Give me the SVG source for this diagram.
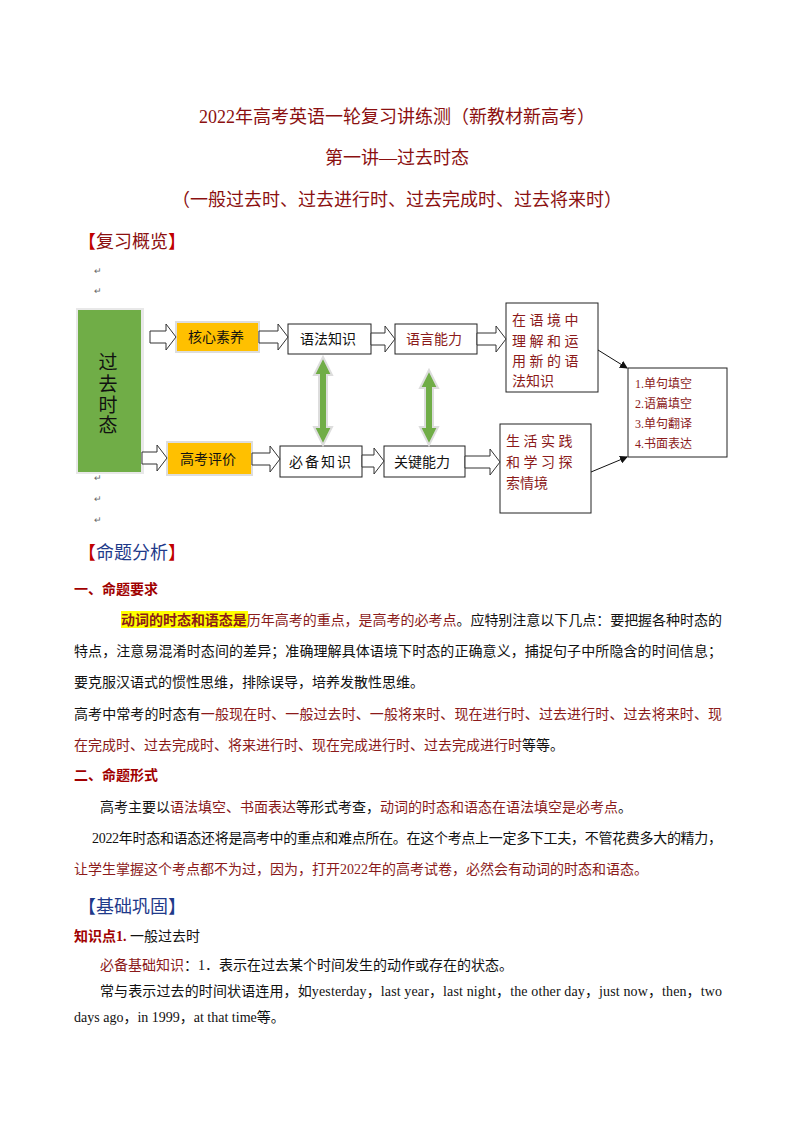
<svg xmlns="http://www.w3.org/2000/svg" width="794" height="1123" viewBox="0 0 794 1123">
<style>
text{font-family:"Liberation Serif","Noto Sans CJK SC",serif;fill:#111}
.t{font-size:18px;fill:#8b1010}
.h{font-size:18px}
.b{font-size:14px}
.r{fill:#8b1a1a}
.rb{fill:#a00000;font-weight:bold}
.m{font-size:9px;fill:#666}
.bx{fill:#fff;stroke:#222;stroke-width:1}
.or{fill:#ffc000;stroke:#ddd;stroke-width:2}
.ha{fill:#fff;stroke:#333;stroke-width:1}
.n{font-size:14px}
</style>
<rect width="794" height="1123" fill="#fff"/>
<text class="t" x="397" y="123" text-anchor="middle">2022年高考英语一轮复习讲练测（新教材新高考）</text>
<text class="t" x="397" y="164" text-anchor="middle">第一讲—过去时态</text>
<text class="t" x="397" y="206" text-anchor="middle">（一般过去时、过去进行时、过去完成时、过去将来时）</text>
<text class="h" x="78" y="248"><tspan fill="#c00000">【</tspan><tspan fill="#8b1010">复习概览</tspan><tspan fill="#c00000">】</tspan></text>
<text class="m" x="94" y="274">↵</text><text class="m" x="94" y="294">↵</text>
<text class="m" x="94" y="481">↵</text><text class="m" x="94" y="502">↵</text><text class="m" x="94" y="523">↵</text>

<g id="n-green"><rect x="76" y="308" width="68" height="166" fill="#e8e8e8"/><rect x="78" y="310" width="63" height="162" fill="#70ad47"/>
<text x="108" y="369" font-size="19" text-anchor="middle">过</text><text x="108" y="391" font-size="19" text-anchor="middle">去</text><text x="108" y="412" font-size="19" text-anchor="middle">时</text><text x="108" y="432" font-size="19" text-anchor="middle">态</text></g>
<g id="n-hexin"><rect class="or" x="176" y="322" width="83" height="30"/><text class="n" x="216" y="342" text-anchor="middle">核心素养</text></g>
<g id="n-yufa"><rect class="bx" x="288" y="324" width="83" height="30"/><text class="n" x="328" y="344" text-anchor="middle">语法知识</text></g>
<g id="n-yuyan"><rect class="bx" x="395" y="324" width="82" height="30"/><text class="n r" x="434" y="344" text-anchor="middle">语言能力</text></g>
<g id="n-zai"><rect class="bx" x="506" y="303" width="92" height="89"/>
<text class="n r" x="512" y="325" letter-spacing="3.5">在语境中</text><text class="n r" x="512" y="346" letter-spacing="3.5">理解和运</text><text class="n r" x="512" y="366" letter-spacing="3.5">用新的语</text><text class="n r" x="512" y="386">法知识</text></g>
<g id="n-gaokao"><rect class="or" x="167" y="442" width="85" height="33"/><text class="n" x="208" y="464" text-anchor="middle">高考评价</text></g>
<g id="n-bibei"><rect class="bx" x="280" y="446" width="82" height="31"/><text class="n" x="321" y="467" text-anchor="middle" letter-spacing="2">必备知识</text></g>
<g id="n-guanjian"><rect class="bx" x="384" y="446" width="81" height="31"/><text class="n" x="422" y="467" text-anchor="middle">关键能力</text></g>
<g id="n-shenghuo"><rect class="bx" x="500" y="424" width="91" height="89"/>
<text class="n r" x="506" y="446" letter-spacing="3.5">生活实践</text><text class="n r" x="506" y="467" letter-spacing="3.5">和学习探</text><text class="n r" x="506" y="488">索情境</text></g>
<g id="n-right"><rect class="bx" x="628" y="368" width="99" height="89"/>
<text x="635" y="388" font-size="12" class="r">1.单句填空</text><text x="635" y="408" font-size="12" class="r">2.语篇填空</text><text x="635" y="428" font-size="12" class="r">3.单句翻译</text><text x="635" y="448" font-size="12" class="r">4.书面表达</text></g>

<g id="connectors">
<path class="ha" d="M150,331 h16 v-7 l10,13 l-10,13 v-7 h-16z"/>
<path class="ha" d="M259,331 h19 v-7 l10,13 l-10,13 v-7 h-19z"/>
<path class="ha" d="M371,333 h14 v-7 l10,13 l-10,13 v-7 h-14z"/>
<path class="ha" d="M477,333 h19 v-7 l10,13 l-10,13 v-7 h-19z"/>
<path class="ha" d="M142,452 h15 v-7 l10,13 l-10,13 v-7 h-15z"/>
<path class="ha" d="M252,453 h18 v-7 l10,13 l-10,13 v-7 h-18z"/>
<path class="ha" d="M362,455 h12 v-7 l10,13 l-10,13 v-7 h-12z"/>
<path class="ha" d="M465,456 h25 v-7 l10,13 l-10,13 v-7 h-25z"/>
<g fill="#70ad47" stroke="#ddd" stroke-width="2">
<path d="M323,357 l9,18 h-5 v52 h5 l-9,18 l-9,-18 h5 v-52 h-5z"/>
<path d="M429,370 l9,18 h-5 v39 h5 l-9,18 l-9,-18 h5 v-39 h-5z"/>
</g>
<defs><marker id="ah" markerWidth="8" markerHeight="8" refX="7" refY="4" orient="auto"><path d="M0,0 L8,4 L0,8z" fill="#111"/></marker></defs>
<line x1="598" y1="350" x2="627" y2="368" stroke="#111" marker-end="url(#ah)"/>
<line x1="591" y1="472" x2="627" y2="457" stroke="#111" marker-end="url(#ah)"/>
</g>

<text class="h" x="78" y="559"><tspan fill="#c00000">【</tspan><tspan fill="#1f3a8a">命题分析</tspan><tspan fill="#c00000">】</tspan></text>
<text class="b rb" x="74" y="594">一、命题要求</text>
<rect x="121" y="611" width="127" height="17" fill="#ffff00"/>
<text class="b" x="121" y="625" textLength="601" lengthAdjust="spacing"><tspan class="r" font-weight="bold" fill="#c00000">动词的时态和语态是</tspan><tspan class="r">历年高考的重点，是高考的必考点</tspan>。应特别注意以下几点：要把握各种时态的</text>
<text class="b" x="74" y="656" textLength="648" lengthAdjust="spacing">特点，注意易混淆时态间的差异；准确理解具体语境下时态的正确意义，捕捉句子中所隐含的时间信息；</text>
<text class="b" x="74" y="687">要克服汉语式的惯性思维，排除误导，培养发散性思维。</text>
<text class="b" x="74" y="719" textLength="648" lengthAdjust="spacing">高考中常考的时态有<tspan class="r">一般现在时、一般过去时、一般将来时、现在进行时、过去进行时、过去将来时、现</tspan></text>
<text class="b" x="74" y="750"><tspan class="r">在完成时、过去完成时、将来进行时、现在完成进行时、过去完成进行时</tspan>等等。</text>
<text class="b rb" x="74" y="780">二、命题形式</text>
<text class="b" x="100" y="812">高考主要以<tspan class="r">语法填空、书面表达</tspan>等形式考查，<tspan class="r">动词的时态和语态在语法填空是必考点</tspan>。</text>
<text class="b" x="92" y="843" textLength="630" lengthAdjust="spacing">2022年时态和语态还将是高考中的重点和难点所在。在这个考点上一定多下工夫，不管花费多大的精力，</text>
<text class="b r" x="74" y="874">让学生掌握这个考点都不为过，因为，打开2022年的高考试卷，必然会有动词的时态和语态。</text>
<text class="h" x="78" y="913"><tspan fill="#1f3a8a">【基础巩固】</tspan></text>
<text class="b" x="74" y="941"><tspan class="rb">知识点1.</tspan> 一般过去时</text>
<text class="b" x="100" y="970"><tspan class="r">必备基础知识</tspan>：1．表示在过去某个时间发生的动作或存在的状态。</text>
<text class="b" x="100" y="996" textLength="622" lengthAdjust="spacing">常与表示过去的时间状语连用，如yesterday，last year，last night，the other day，just now，then，two</text>
<text class="b" x="74" y="1022">days ago，in 1999，at that time等。</text>
</svg>
